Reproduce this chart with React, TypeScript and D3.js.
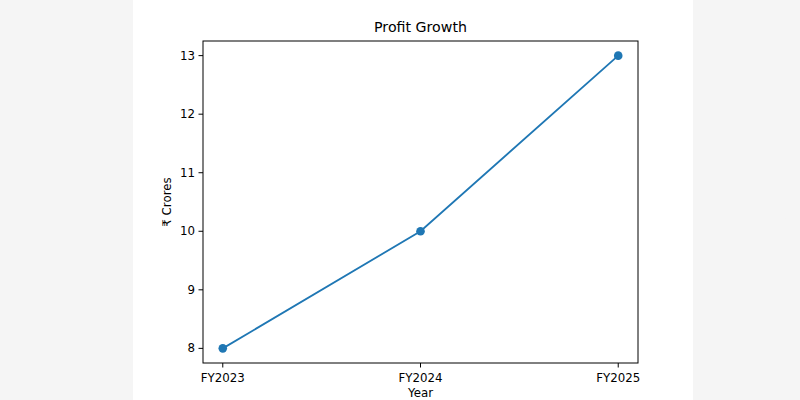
import * as d3 from "d3";

const years = ["FY2023", "FY2024", "FY2025"];
const profit = [8, 10, 13];
const yTicks = [8, 9, 10, 11, 12, 13];

const W = 800;
const H = 400;
const fig = { left: 133, right: 693 };
const plot = { left: 203, right: 638, top: 41, bottom: 363 };
const font = "DejaVu Sans, sans-serif";
const blue = "#1f77b4";

export default function App() {
  // matplotlib style margins: 5% of data range on each side
  const xScale = d3
    .scaleLinear()
    .domain([-0.1, years.length - 1 + 0.1])
    .range([plot.left, plot.right]);
  const [lo, hi] = d3.extent(profit) as [number, number];
  const pad = (hi - lo) * 0.05;
  const yScale = d3
    .scaleLinear()
    .domain([lo - pad, hi + pad])
    .range([plot.bottom, plot.top]);

  const line = d3
    .line<number>()
    .x((_, i) => xScale(i))
    .y((d) => yScale(d));

  return (
    <div style={{ position: "absolute", left: 0, top: 0 }}>
      <svg width={W} height={H} viewBox={`0 0 ${W} ${H}`} style={{ display: "block" }}>
        <defs>
          <filter id="paper" x="0" y="0" width="100%" height="100%">
            <feTurbulence type="fractalNoise" baseFrequency="0.9 0.35" numOctaves={2} seed={3} />
            <feColorMatrix
              type="matrix"
              values="0 0 0 0 0.9  0 0 0 0 0.9  0 0 0 0 0.9  0 0 0 0.35 0"
            />
          </filter>
        </defs>
        {/* textured page background */}
        <rect x={0} y={0} width={W} height={H} fill="#f5f5f5" />
        <rect x={0} y={0} width={W} height={H} filter="url(#paper)" />
        {/* figure */}
        <rect x={fig.left} y={0} width={fig.right - fig.left} height={H} fill="#ffffff" />

        <text
          x={(plot.left + plot.right) / 2}
          y={32}
          textAnchor="middle"
          fontFamily={font}
          fontSize={14.2}
          fill="#000"
        >
          Profit Growth
        </text>

        {/* y ticks */}
        {yTicks.map((t) => (
          <g key={t}>
            <line x1={plot.left - 4.5} x2={plot.left} y1={yScale(t)} y2={yScale(t)} stroke="#000" strokeWidth={1} />
            <text
              x={plot.left - 8}
              y={yScale(t)}
              dy="0.35em"
              textAnchor="end"
              fontFamily={font}
              fontSize={11.8}
              fill="#000"
            >
              {t}
            </text>
          </g>
        ))}

        {/* x ticks */}
        {years.map((y, i) => (
          <g key={y}>
            <line x1={xScale(i)} x2={xScale(i)} y1={plot.bottom} y2={plot.bottom + 4.5} stroke="#000" strokeWidth={1} />
            <text
              x={xScale(i)}
              y={plot.bottom + 18.5}
              textAnchor="middle"
              fontFamily={font}
              fontSize={11.8}
              fill="#000"
            >
              {y}
            </text>
          </g>
        ))}

        <text
          x={(plot.left + plot.right) / 2}
          y={397}
          textAnchor="middle"
          fontFamily={font}
          fontSize={11.8}
          fill="#000"
        >
          Year
        </text>
        <text
          transform={`translate(171,${(plot.top + plot.bottom) / 2}) rotate(-90)`}
          textAnchor="middle"
          fontFamily={font}
          fontSize={11.8}
          fill="#000"
        >
          ₹ Crores
        </text>

        <path d={line(profit) ?? undefined} fill="none" stroke={blue} strokeWidth={1.8} />
        {profit.map((d, i) => (
          <circle key={i} cx={xScale(i)} cy={yScale(d)} r={4.3} fill={blue} />
        ))}

        <rect
          x={plot.left}
          y={plot.top}
          width={plot.right - plot.left}
          height={plot.bottom - plot.top}
          fill="none"
          stroke="#000"
          strokeWidth={1}
        />
      </svg>
    </div>
  );
}
